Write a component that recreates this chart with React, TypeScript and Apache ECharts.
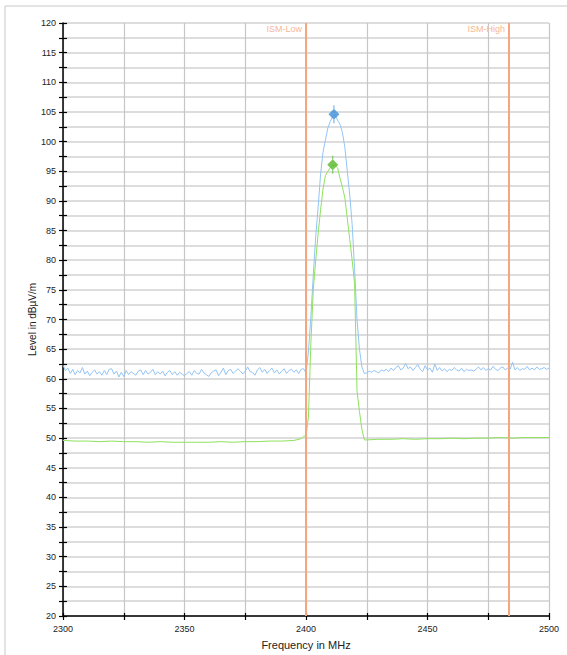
import React, { useEffect, useRef } from "react";
import * as echarts from "echarts";

// Frequency axis (MHz) and level axis (dBµV/m)
const xMin = 2300;
const xMax = 2500;
const yMin = 20;
const yMax = 120;

// Max-hold trace (blue), 1 MHz steps: 2300..2399
const blueNoiseLow = [
  62.3, 61.4, 61.8, 60.9, 61.6, 60.7, 61.4, 61.0, 61.9, 60.8,
  61.3, 60.5, 61.1, 61.5, 60.8, 61.2, 60.6, 61.4, 60.7, 61.6,
  61.7, 60.8, 61.3, 60.3, 61.1, 60.4, 61.4, 60.7, 61.2, 60.9,
  60.6, 61.3, 61.5, 60.7, 61.4, 60.8, 61.1, 61.6, 60.7, 61.2,
  60.8, 61.3, 60.5, 61.1, 61.4, 60.7, 61.2, 60.6, 61.1, 60.8,
  60.5, 60.9, 61.2, 60.6, 61.4, 60.9, 60.8, 61.6, 61.0, 60.7,
  60.4, 61.0, 61.3, 61.5, 60.5, 61.1, 61.8, 60.7, 61.4, 61.6,
  60.9, 61.3, 61.7, 61.3, 60.8, 61.3, 62.0, 61.2, 61.1, 60.6,
  61.5, 61.9, 61.1, 61.6, 60.9, 61.4, 61.8, 61.0, 61.5, 60.8,
  61.3, 61.7, 60.9, 61.4, 61.6, 61.1, 61.5, 60.9, 61.6, 61.7,
];
// 2400..2423
const bluePeak = [
  61.0, 64.5, 70.5, 77.5, 84.0, 89.0, 94.5, 98.2, 100.3, 102.3,
  103.4, 104.3, 104.5, 103.6, 102.9, 101.5, 99.0, 95.0, 91.0, 86.0,
  78.5, 70.0, 65.0, 62.0,
];
// 2424..2500
const blueNoiseHigh = [
  60.9, 61.0, 61.3, 61.1, 61.4, 61.2, 61.0, 61.5, 61.3, 61.6,
  61.2, 61.8, 61.4, 61.9, 62.2, 61.5, 61.8, 62.6, 61.7, 62.0,
  61.4, 61.9, 62.4, 61.6, 61.2, 62.2, 61.5, 61.8, 61.1, 62.5,
  61.4, 61.9, 61.3, 61.7, 61.2, 61.6, 61.4, 61.9, 61.5, 61.3,
  61.8, 61.2, 61.6, 61.4, 61.5, 61.3, 61.6, 62.0, 61.5, 61.9,
  61.4, 61.7, 61.5, 62.1, 61.6, 61.4, 61.8, 62.0, 61.5, 61.8,
  61.6, 62.8, 61.5, 61.9, 61.4, 61.7, 61.6, 62.1, 61.5, 61.8,
  61.5, 62.0, 61.6, 61.7, 61.9, 61.6, 61.8,
];

// Average trace (green)
const greenFreq = [
  2300, 2305, 2310, 2315, 2320, 2325, 2330, 2335, 2340, 2345,
  2350, 2355, 2360, 2365, 2370, 2375, 2380, 2385, 2390, 2395,
  2398, 2399, 2400, 2401, 2402, 2403, 2404, 2405, 2406, 2407,
  2408, 2409, 2410, 2411, 2412, 2413, 2414, 2415, 2416, 2417,
  2418, 2419, 2420, 2421, 2422, 2423, 2424, 2425, 2430, 2435,
  2440, 2445, 2450, 2455, 2460, 2465, 2470, 2475, 2480, 2485,
  2490, 2495, 2500,
];
const greenLevel = [
  49.6, 49.5, 49.5, 49.4, 49.5, 49.4, 49.4, 49.3, 49.4, 49.3,
  49.3, 49.3, 49.3, 49.4, 49.3, 49.4, 49.4, 49.5, 49.5, 49.6,
  49.9, 50.3, 50.4, 53.5, 66.0, 75.0, 80.0, 84.5, 88.5, 92.0,
  94.3, 95.0, 95.6, 96.0, 96.0, 95.6, 93.8, 92.3, 90.5, 87.0,
  83.5, 80.0, 76.0, 58.0, 54.5, 51.5, 49.7, 49.7, 49.8, 49.8,
  49.9, 49.8, 49.9, 49.9, 50.0, 49.9, 50.0, 50.0, 50.1, 50.0,
  50.1, 50.1, 50.1,
];

// Peak markers
const bluePeakMarker = [2411.5, 104.6];
const greenPeakMarker = [2411, 96.1];

// ISM band limits
const ismLines = [
  { name: "ISM-Low", freq: 2400 },
  { name: "ISM-High", freq: 2483.5 },
];

const markerSymbol =
  "path://M5,0 H6 V18 H5 Z M5.5,3.5 L11,9 L5.5,14.5 L0,9 Z";

export default function App() {
  const ref = useRef<HTMLDivElement>(null);

  useEffect(() => {
    if (!ref.current) return;
    const chart = echarts.init(ref.current, null, { renderer: "svg" });
    const blueLevels = [...blueNoiseLow, ...bluePeak, ...blueNoiseHigh];
    const blueData = blueLevels.map((v, i) => [xMin + i, v]);
    const greenData = greenFreq.map((f, i) => [f, greenLevel[i]]);
    const font = "'Liberation Sans', Arial, sans-serif";

    const xBase = {
      type: "value",
      min: xMin,
      max: xMax,
      interval: 25,
    };
    const yBase = {
      type: "value",
      min: yMin,
      max: yMax,
      interval: 2.5,
    };

    chart.setOption({
      animation: false,
      backgroundColor: "#ffffff",
      grid: { left: 63, right: 18, top: 23, bottom: 36 },
      graphic: [
        {
          type: "rect",
          shape: { x: 5, y: 6, width: 700, height: 700 },
          style: { fill: "none", stroke: "#c8c8c8", lineWidth: 1 },
          silent: true,
          z: -1,
        },
      ],
      xAxis: [
        {
          ...xBase,
          name: "Frequency in MHz",
          nameLocation: "middle",
          nameGap: 23,
          nameMoveOverlap: false,
          nameTextStyle: { fontFamily: font, fontSize: 11, color: "#222" },
          axisLine: { show: true, onZero: false, lineStyle: { color: "#000", width: 1.5 } },
          axisTick: { show: true, length: 4, lineStyle: { color: "#000", width: 1.2 } },
          axisLabel: {
            fontFamily: font,
            fontSize: 9,
            color: "#222",
            margin: 8,
            formatter: (v: number) => (v % 50 === 0 ? String(v) : ""),
          },
          splitLine: { show: true, lineStyle: { color: "#c6c6c6", width: 1.2 } },
        },
        {
          ...xBase,
          position: "bottom",
          axisLine: { show: false },
          axisTick: { show: true, inside: true, length: 3, lineStyle: { color: "#000", width: 1.2 } },
          axisLabel: { show: false },
          splitLine: { show: false },
        },
      ],
      yAxis: [
        {
          ...yBase,
          name: "Level in dBµV/m",
          nameLocation: "middle",
          nameGap: 26,
          nameMoveOverlap: false,
          nameTextStyle: { fontFamily: font, fontSize: 10, color: "#222" },
          axisLine: { show: true, onZero: false, lineStyle: { color: "#000", width: 1.5 } },
          axisTick: { show: true, length: 4, lineStyle: { color: "#000", width: 1.2 } },
          axisLabel: {
            fontFamily: font,
            fontSize: 9,
            color: "#222",
            margin: 7,
            formatter: (v: number) => (v % 5 === 0 ? String(v) : ""),
          },
          splitLine: { show: true, lineStyle: { color: "#d2d2d2", width: 1.5 } },
        },
        {
          ...yBase,
          position: "left",
          axisLine: { show: false },
          axisTick: { show: true, inside: true, length: 4, lineStyle: { color: "#000", width: 1.2 } },
          axisLabel: { show: false },
          splitLine: { show: false },
        },
      ],
      series: [
        {
          name: "Max",
          type: "line",
          data: blueData,
          showSymbol: false,
          symbol: "none",
          lineStyle: { color: "#93c4f6", width: 1 },
          z: 3,
          markLine: {
            silent: true,
            symbol: "none",
            label: { show: false },
            lineStyle: { color: "#f7a57c", width: 2, type: "solid" },
            data: ismLines.map((l) => ({ xAxis: l.freq })),
          },
          markPoint: {
            silent: true,
            symbol: "rect",
            symbolSize: 0,
            data: ismLines.map((l) => ({
              coord: [l.freq, yMax],
              label: {
                show: true,
                formatter: l.name,
                position: "left",
                distance: 4,
                offset: [0, 6],
                fontFamily: font,
                fontSize: 9,
                color: "#f6b795",
              },
            })),
          },
        },
        {
          name: "Average",
          type: "line",
          data: greenData,
          showSymbol: false,
          symbol: "none",
          lineStyle: { color: "#8ee25e", width: 1 },
          z: 3,
        },
        {
          name: "Max peak",
          type: "scatter",
          data: [bluePeakMarker],
          symbol: markerSymbol,
          symbolSize: [11, 18],
          itemStyle: { color: "#3d8fd8" },
          z: 5,
        },
        {
          name: "Average peak",
          type: "scatter",
          data: [greenPeakMarker],
          symbol: markerSymbol,
          symbolSize: [11, 18],
          itemStyle: { color: "#58b82a" },
          z: 5,
        },
      ],
    });

    return () => chart.dispose();
  }, []);

  return (
    <div
      ref={ref}
      style={{ position: "fixed", left: 0, top: 0, width: 567, height: 655, background: "#fff" }}
    />
  );
}
